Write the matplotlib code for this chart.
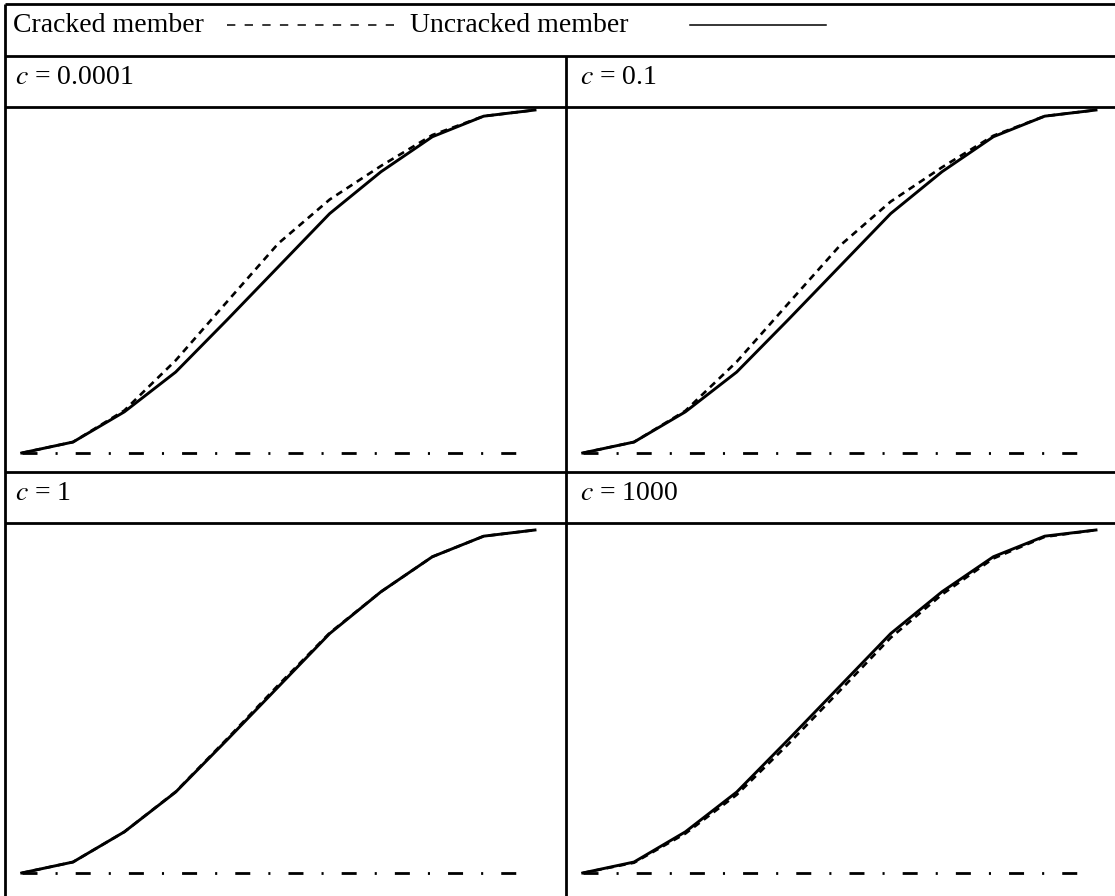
import matplotlib
matplotlib.use("Agg")
import matplotlib.pyplot as plt

plt.rcParams['font.family'] = ['Liberation Serif', 'DejaVu Serif']
plt.rcParams['lines.scale_dashes'] = False

# normalised response along the member, 11 stations
stations = [0, 1, 2, 3, 4, 5, 6, 7, 8, 9, 10]
uncracked = [0, 0.032, 0.120, 0.236, 0.388, 0.543, 0.698, 0.820, 0.922, 0.982, 1.0]
cracked_c0001 = [0, 0.032, 0.124, 0.270, 0.441, 0.611, 0.739, 0.837, 0.927, 0.982, 1.0]
cracked_c01 = [0, 0.032, 0.123, 0.266, 0.435, 0.603, 0.733, 0.833, 0.925, 0.982, 1.0]
cracked_c1 = [0, 0.032, 0.120, 0.237, 0.391, 0.548, 0.700, 0.820, 0.922, 0.982, 1.0]
cracked_c1000 = [0, 0.030, 0.115, 0.228, 0.375, 0.530, 0.686, 0.812, 0.917, 0.980, 1.0]
baseline_x = [0, 9.77]
baseline_y = [0, 0]

panel_titles = ['$c$ = 0.0001', '$c$ = 0.1', '$c$ = 1', '$c$ = 1000']
cracked_sets = [cracked_c0001, cracked_c01, cracked_c1, cracked_c1000]

W, H = 1115, 896
fig = plt.figure(figsize=(W / 100, H / 100), dpi=100)

# background axes in pixel units for the table frame and text
bg = fig.add_axes([0, 0, 1, 1])
bg.set_xlim(0, W)
bg.set_ylim(H, 0)
bg.axis('off')

lw_frame = 2.0
left, mid = 5, 566
rows = [4, 56, 107, 472, 523]
for y in rows:
    bg.plot([left, W + 10], [y, y], color='k', lw=lw_frame, solid_capstyle='butt')
bg.plot([left, left], [rows[0], H + 10], color='k', lw=lw_frame, solid_capstyle='butt')
bg.plot([mid, mid], [rows[1], H + 10], color='k', lw=lw_frame, solid_capstyle='butt')

fs = 20
# legend row
bg.text(13, 32, 'Cracked member', fontsize=fs, ha='left', va='baseline')
bg.plot([227, 394], [25, 25], color='k', lw=1.1, dashes=(6, 6.7))
bg.text(410, 32, 'Uncracked member', fontsize=fs, ha='left', va='baseline')
bg.plot([690, 826], [25, 25], color='k', lw=1.1)

# panel titles
title_pos = [(15, 84), (580, 84), (15, 500), (580, 500)]
for (tx, ty), t in zip(title_pos, panel_titles):
    bg.text(tx, ty, t, fontsize=fs, ha='left', va='baseline',
            math_fontfamily='stix')

# plot panels: pixel boxes and where data x=0..10, y=0..1 land
px_per_x = (535 - 21.7) / 10
px_per_y = 343
panels = [
    (left, mid, rows[2], rows[3], 21.7, 453),
    (mid, W, rows[2], rows[3], 21.7 + 561, 453),
    (left, mid, rows[4], H, 21.7, 873),
    (mid, W, rows[4], H, 21.7 + 561, 873),
]

for (x0, x1, y0, y1, ox, oy), cracked in zip(panels, cracked_sets):
    ax = fig.add_axes([x0 / W, 1 - y1 / H, (x1 - x0) / W, (y1 - y0) / H])
    ax.set_xlim((x0 - ox) / px_per_x, (x1 - ox) / px_per_x)
    ax.set_ylim((oy - y1) / px_per_y, (oy - y0) / px_per_y)
    ax.axis('off')
    ax.patch.set_alpha(0)
    ax.plot(baseline_x, baseline_y, color='k', lw=2.0,
            dashes=(10.8, 13, 1.5, 13), dash_capstyle='butt')
    ax.plot(stations, uncracked, color='k', lw=2.1, solid_joinstyle='round')
    ax.plot(stations, cracked, color='k', lw=1.9, dashes=(5, 3.8),
            dash_capstyle='butt')

fig.savefig('out.png', dpi=100)
